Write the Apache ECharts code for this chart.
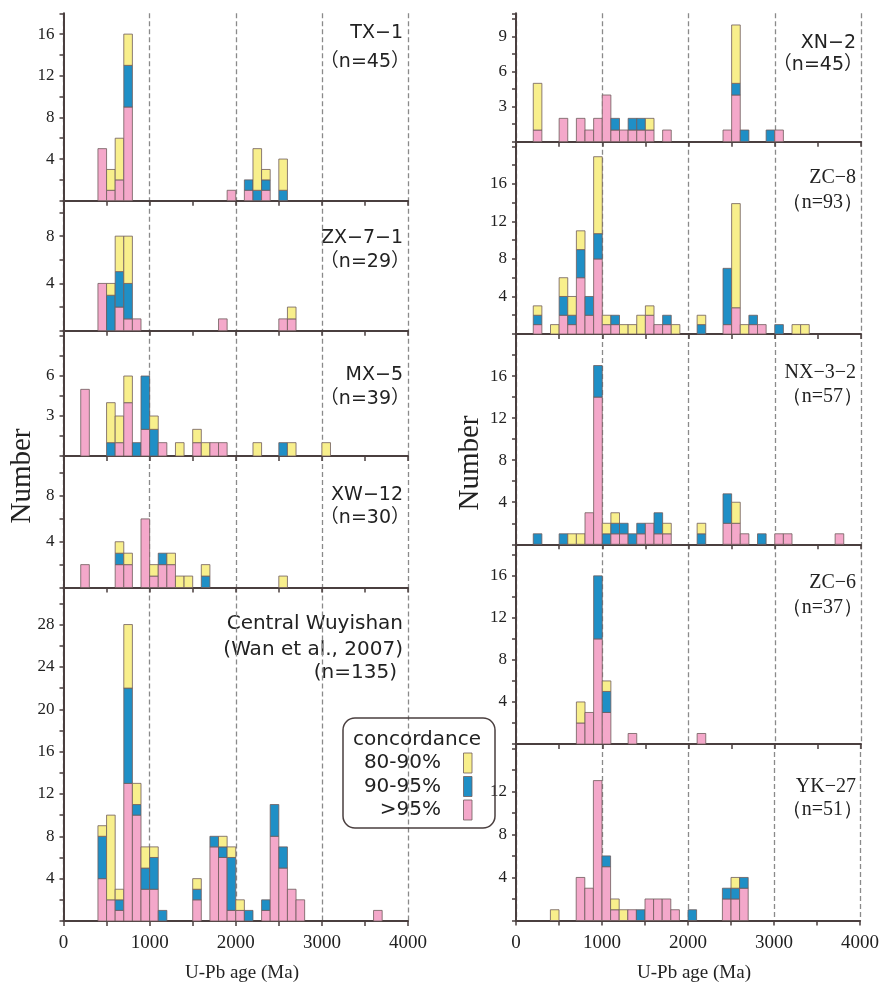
<!DOCTYPE html>
<html><head><meta charset="utf-8">
<script src="https://cdn.jsdelivr.net/npm/echarts@6/dist/echarts.min.js"></script>
<style>html,body{margin:0;padding:0;background:#fff;}#c{width:882px;height:984px;}</style>
</head><body><div id="c"></div>
<script>
// Each row: [bin start (Ma), count >95%, count 90-95%, count 80-90%]; bin width 100 Ma
const BIN_WIDTH = 100;
const TX1 = [[400,5,0,0],[500,1,0,2],[600,2,0,4],[700,9,4,3],[1900,1,0,0],[2100,1,1,0],[2200,0,1,4],[2300,1,1,1],[2500,0,1,3]];
const ZX71 = [[400,4,0,0],[500,0,3,1],[600,2,3,3],[700,1,3,4],[800,1,0,0],[1800,1,0,0],[2500,1,0,0],[2600,1,0,1]];
const MX5 = [[200,5,0,0],[500,0,1,3],[600,1,0,2],[700,4,0,2],[800,0,1,0],[900,2,4,0],[1000,0,2,1],[1100,1,0,0],[1300,0,0,1],[1500,1,0,1],[1600,0,0,1],[1700,1,0,0],[1800,1,0,0],[2200,0,0,1],[2500,0,1,0],[2600,0,0,1],[3000,0,0,1]];
const XW12 = [[200,2,0,0],[600,2,1,1],[700,2,0,1],[900,6,0,0],[1000,1,0,1],[1100,2,1,0],[1200,2,0,1],[1300,0,0,1],[1400,0,0,1],[1600,0,1,1],[2500,0,0,1]];
const CW = [[400,4,4,1],[500,2,0,8],[600,1,1,1],[700,13,9,6],[800,10,1,2],[900,3,2,2],[1000,3,3,1],[1100,0,1,0],[1500,2,1,1],[1700,7,1,0],[1800,6,1,1],[1900,1,5,1],[2000,1,0,1],[2100,0,1,0],[2300,1,1,0],[2400,8,3,0],[2500,5,2,0],[2600,3,0,0],[2700,2,0,0],[3600,1,0,0]];
const XN2 = [[200,1,0,4],[500,2,0,0],[700,2,0,0],[800,1,0,0],[900,2,0,0],[1000,4,0,0],[1100,1,1,0],[1200,1,0,0],[1300,1,1,0],[1400,1,1,0],[1500,1,0,1],[1700,1,0,0],[2400,1,0,0],[2500,4,1,5],[2600,0,1,0],[2900,0,1,0],[3000,1,0,0]];
const ZC8 = [[200,1,1,1],[400,0,0,1],[500,2,2,2],[600,1,1,2],[700,6,3,2],[800,2,2,0],[900,8,2.7,8.2],[1000,1,0,1],[1100,1,1,0],[1200,0,0,1],[1300,0,0,1],[1400,0,0,2],[1500,2,0,1],[1600,1,0,0],[1700,1,1,0],[1800,0,0,1],[2100,0,1,1],[2400,1,6,0],[2500,2.8,0,11.1],[2600,0,0,1],[2700,1,1,0],[2800,1,0,0],[3000,0,1,0],[3200,0,0,1],[3300,0,0,1]];
const NX32 = [[200,0,1,0],[500,0,1,0],[600,0,0,1],[700,0,0,1],[800,3,0,0],[900,14,3,0],[1000,0,1,1],[1100,1,1,1],[1200,1,1,0],[1300,0,1,0],[1400,1,1,0],[1500,2,0,0],[1600,1,2,0],[1700,1,0,1],[2100,0,1,1],[2400,2,2.8,0],[2500,2,0,2],[2600,1,0,0],[2800,0,1,0],[3000,1,0,0],[3100,1,0,0],[3700,1,0,0]];
const ZC6 = [[700,2,0,2],[800,3,0,0],[900,10,6,0],[1000,3,2,1],[1300,1,0,0],[2100,1,0,0]];
const YK27 = [[400,0,0,1],[700,4,0,0],[800,3,0,0],[900,13,0,0],[1000,5,1,0],[1100,1,0,1],[1200,0,0,1],[1300,1,0,0],[1400,0,1,0],[1500,2,0,0],[1600,2,0,0],[1700,2,0,0],[1800,1,0,0],[2000,0,1,0],[2400,2,1,0],[2500,2,1,1],[2600,3,1,0]];

const sampleNames = ['TX−1','ZX−7−1','MX−5','XW−12','Central Wuyishan','XN−2','ZC−8','NX−3−2','ZC−6','YK−27'];
const sampleCounts = ['（n=45）','（n=29）','（n=39）','（n=30）','(n=135)','（n=45）','（n=93）','（n=57）','（n=37）','（n=51）'];
const cwSource = '(Wan et al., 2007)';
const ageTicks = [0,1000,2000,3000,4000];
const legendTitle = 'concordance';
const legendLabels = ['80-90%','90-95%','>95%'];
const xTitle = 'U-Pb age (Ma)';
const yTitle = 'Number';

// styling / layout
const FILL = ['#F4A8CA','#1F8FC6','#F8EF8C'];  // >95, 90-95, 80-90
const AXIS = '#4a3f3f';
const SERIF = '"Liberation Serif", "Times New Roman", serif';
const SANS = '"DejaVu Sans", "Noto Sans CJK SC", sans-serif';
const COLS = [{left:63.5, width:344.5}, {left:516, width:345}];
const panels = [
  {data:TX1,  col:0, top:13.3,  bottom:200.7, max:18,   step:2,   labels:[4,8,12,16], serif:false, ty:[33,62]},
  {data:ZX71, col:0, top:200.7, bottom:330.7, max:11,   step:2,   labels:[4,8], serif:false, ty:[238,262]},
  {data:MX5,  col:0, top:330.7, bottom:456,   max:9.4,  step:1.5, labels:[3,6], serif:false, ty:[375,399]},
  {data:XW12, col:0, top:456,   bottom:587.5, max:11.5, step:2,   labels:[4,8], serif:false, ty:[495,518]},
  {data:CW,   col:0, top:587.5, bottom:921,   max:31.5, step:2,   labels:[4,8,12,16,20,24,28], serif:false, ty:[624,673], bottomAxis:true},
  {data:XN2,  col:1, top:13.3,  bottom:141.7, max:11,   step:1.5, labels:[3,6,9], serif:false, ty:[43,65]},
  {data:ZC8,  col:1, top:141.7, bottom:334,   max:20.5, step:2,   labels:[4,8,12,16], serif:true, ty:[178,203]},
  {data:NX32, col:1, top:334,   bottom:544.3, max:20,   step:2,   labels:[4,8,12,16], serif:true, ty:[373,397]},
  {data:ZC6,  col:1, top:544.3, bottom:744,   max:19,   step:2,   labels:[4,8,12,16], serif:true, ty:[583,608]},
  {data:YK27, col:1, top:744,   bottom:920.5, max:16.4, step:2,   labels:[4,8,12], serif:true, ty:[787,810], bottomAxis:true}
];

function toRects(rows){
  const out = [];
  rows.forEach(r => {
    let base = 0;
    for (let k = 0; k < 3; k++) {
      const v = r[k+1];
      if (v > 0) { out.push([r[0], r[0] + BIN_WIDTH, base, base + v, k]); base += v; }
    }
  });
  return out;
}

const grid = [], xAxis = [], yAxis = [], series = [], graphic = [];
panels.forEach((p, i) => {
  const c = COLS[p.col];
  grid.push({left:c.left, width:c.width, top:p.top, height:p.bottom - p.top, containLabel:false});
  xAxis.push({
    type:'value', gridIndex:i, min:ageTicks[0], max:ageTicks[ageTicks.length-1], interval:1000,
    axisLine:{show:true, onZero:false, lineStyle:{color:AXIS, width:2}},
    axisTick:{show:true, length:5, lineStyle:{color:AXIS, width:1.5}},
    minorTick:{show:true, splitNumber:2, length:5, lineStyle:{color:AXIS, width:1.5}},
    splitLine:{show:true, lineStyle:{color:'#8a8a8a', width:1.3, type:[5,3]}},
    axisLabel:{show:!!p.bottomAxis, margin:13, fontFamily:SERIF, fontSize:19, color:'#222',
      formatter: v => ageTicks.includes(v) ? String(v) : ''}
  });
  yAxis.push({
    type:'value', gridIndex:i, min:0, max:p.max, interval:p.step,
    axisLine:{show:true, lineStyle:{color:AXIS, width:2}},
    axisTick:{show:true, length:4, lineStyle:{color:AXIS, width:1.5}},
    splitLine:{show:false},
    axisLabel:{margin:9, fontFamily:SERIF, fontSize:17, color:'#222',
      formatter: v => p.labels.some(l => Math.abs(l - v) < 1e-6) ? String(Math.round(v)) : ''}
  });
  series.push({
    type:'custom', xAxisIndex:i, yAxisIndex:i, silent:true, clip:false,
    dimensions:['x0','x1','y0','y1','cls'],
    encode:{x:['x0','x1'], y:['y0','y1']},
    data: toRects(p.data),
    renderItem: (params, api) => {
      const a = api.coord([api.value(0), api.value(3)]);
      const b = api.coord([api.value(1), api.value(2)]);
      return {type:'rect', shape:{x:a[0], y:a[1], width:b[0]-a[0], height:b[1]-a[1]},
        style:{fill:FILL[api.value(4)], stroke:'#6e5c5c', lineWidth:0.8}};
    }
  });
  // panel labels
  const rx = c.left + c.width - 5;
  const font = p.serif ? SERIF : SANS;
  const fs = p.serif ? 20 : 19;
  if (i === 4) {
    graphic.push({type:'text', x:403, y:624, style:{text:sampleNames[i], align:'right', verticalAlign:'middle', fontFamily:SANS, fontSize:20, fill:'#222'}});
    graphic.push({type:'text', x:403, y:650, style:{text:cwSource, align:'right', verticalAlign:'middle', fontFamily:SANS, fontSize:20, fill:'#222'}});
    graphic.push({type:'text', x:397, y:673, style:{text:sampleCounts[i], align:'right', verticalAlign:'middle', fontFamily:SANS, fontSize:20, fill:'#222'}});
  } else {
    graphic.push({type:'text', x:rx, y:p.ty[0], style:{text:sampleNames[i], align:'right', verticalAlign:'middle', fontFamily:font, fontSize:fs, fill:'#222'}});
    graphic.push({type:'text', x:rx + 7, y:p.ty[1], style:{text:sampleCounts[i], align:'right', verticalAlign:'middle', fontFamily:font, fontSize:fs, fill:'#222'}});
  }
});

// axis titles
graphic.push({type:'text', x:242, y:973, style:{text:xTitle, align:'center', verticalAlign:'middle', fontFamily:SERIF, fontSize:19, fill:'#222'}});
graphic.push({type:'text', x:694, y:973, style:{text:xTitle, align:'center', verticalAlign:'middle', fontFamily:SERIF, fontSize:19, fill:'#222'}});
graphic.push({type:'text', x:22, y:476, rotation:Math.PI/2, style:{text:yTitle, align:'center', verticalAlign:'middle', fontFamily:SERIF, fontSize:29, fill:'#222'}});
graphic.push({type:'text', x:470, y:463, rotation:Math.PI/2, style:{text:yTitle, align:'center', verticalAlign:'middle', fontFamily:SERIF, fontSize:29, fill:'#222'}});

// legend box
graphic.push({type:'rect', shape:{x:343, y:718, width:152, height:110, r:12}, style:{fill:'rgba(255,255,255,0)', stroke:AXIS, lineWidth:1.5}, z:100});
graphic.push({type:'text', x:417, y:740, style:{text:legendTitle, align:'center', verticalAlign:'middle', fontFamily:SANS, fontSize:20, fill:'#222'}, z:100});
const legendFill = [FILL[2], FILL[1], FILL[0]];
legendLabels.forEach((t, k) => {
  const y = 763 + k * 23.5;
  graphic.push({type:'text', x:441, y:y, style:{text:t, align:'right', verticalAlign:'middle', fontFamily:SANS, fontSize:20, fill:'#222'}, z:100});
  graphic.push({type:'rect', shape:{x:463.5, y:y - 10, width:8.5, height:20}, style:{fill:legendFill[k], stroke:'#6e5c5c', lineWidth:0.8}, z:100});
});

const chart = echarts.init(document.getElementById('c'), null, {renderer:'canvas'});
chart.setOption({animation:false, backgroundColor:'#fff', grid, xAxis, yAxis, series, graphic});
</script>
</body></html>
